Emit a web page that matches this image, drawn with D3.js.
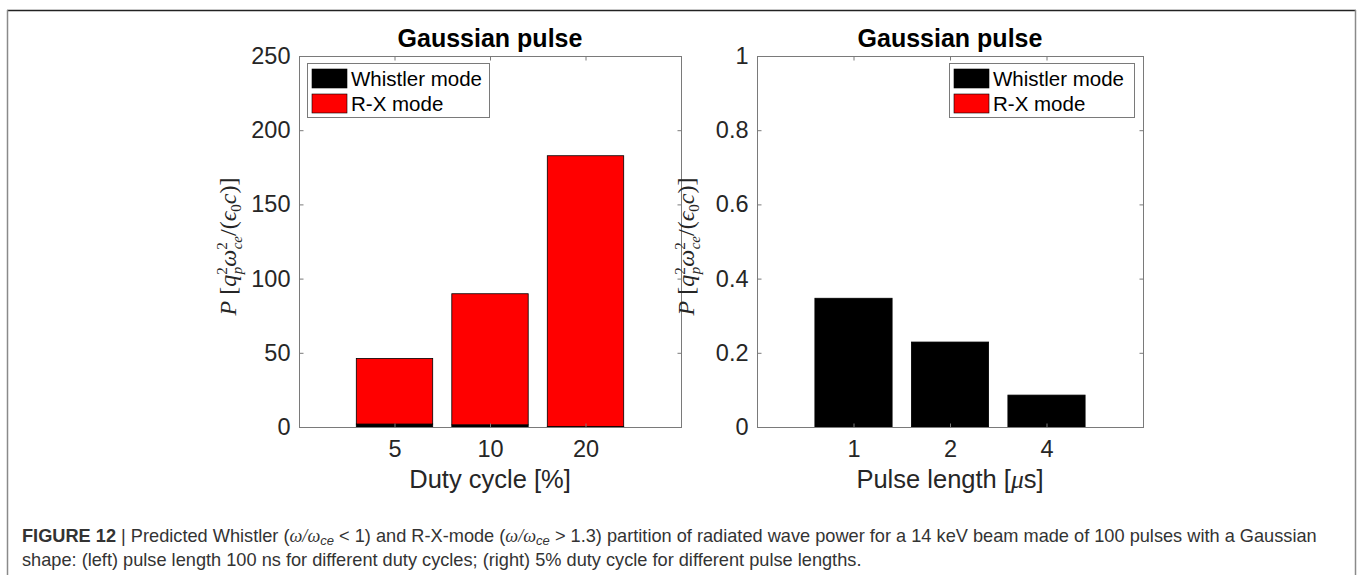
<!DOCTYPE html>
<html>
<head>
<meta charset="utf-8">
<script src="https://cdn.jsdelivr.net/npm/d3@7"></script>
<style>
  body { margin: 0; background: #fff; }
  svg text { font-family: "Liberation Sans", Arial, sans-serif; }
</style>
</head>
<body>
<div class="fig"></div>
<script>
// data
var dutyCycles = ["5", "10", "20"];
var whistlerDuty = [2.0, 1.5, 0.3];
var rxDuty = [44.2, 88.3, 182.5];

var pulseLengths = ["1", "2", "4"];
var whistlerPulse = [0.347, 0.229, 0.086];
var rxPulse = [0, 0, 0];

var yTicksLeft = [0, 50, 100, 150, 200, 250];
var yTicksRight = [0, 0.2, 0.4, 0.6, 0.8, 1];

var W = 1360, H = 575;
var svg = d3.select("div.fig").append("svg")
  .attr("width", W)
  .attr("height", H);

// outer frame of the figure panel
svg.append("line").attr("x1", 7).attr("x2", 1356).attr("y1", 10.5).attr("y2", 10.5)
  .attr("stroke", "#222").attr("stroke-width", 1.5);
svg.append("line").attr("x1", 7.5).attr("x2", 7.5).attr("y1", 10).attr("y2", H)
  .attr("stroke", "#8a8a8a").attr("stroke-width", 1.5);
svg.append("line").attr("x1", 1355.5).attr("x2", 1355.5).attr("y1", 10).attr("y2", H)
  .attr("stroke", "#8a8a8a").attr("stroke-width", 1.5);

var axisCol = "#7a7a7a", textCol = "#262626";

function panel(opt) {
  var g = svg.append("g");
  var x = d3.scalePoint().domain(opt.cats).range([opt.x0, opt.x1]).padding(1);
  var y = d3.scaleLinear().domain(opt.ydom).range([opt.y1, opt.y0]);
  var bw = x.step() * 0.8;

  var rows = opt.cats.map(function(c, i) {
    return { cat: c, whistler: opt.whistler[i], rx: opt.rx[i] };
  });
  var stacked = d3.stack().keys(["whistler", "rx"])(rows);
  var colors = { whistler: "#000000", rx: "#ff0000" };

  stacked.forEach(function(layer) {
    g.selectAll(null)
      .data(layer.filter(function(d) { return d[1] > d[0]; }))
      .enter()
      .append("rect")
      .attr("x", function(d) { return x(d.data.cat) - bw / 2; })
      .attr("width", bw)
      .attr("y", function(d) { return y(d[1]); })
      .attr("height", function(d) { return y(d[0]) - y(d[1]); })
      .attr("fill", colors[layer.key])
      .attr("stroke", "#000")
      .attr("stroke-width", 0.8);
  });

  // box
  g.append("rect")
    .attr("x", opt.x0 + 0.5).attr("y", opt.y0 + 0.5)
    .attr("width", opt.x1 - opt.x0).attr("height", opt.y1 - opt.y0)
    .attr("fill", "none").attr("stroke", axisCol).attr("stroke-width", 1);

  // axes (ticks inward, mirrored like matlab)
  var yAxis = d3.axisLeft(y).tickValues(opt.yticks).tickSizeInner(-4).tickSizeOuter(0)
    .tickPadding(9).tickFormat(opt.fmt);
  var ya = g.append("g").attr("transform", "translate(" + (opt.x0 + 0.5) + ",0)").call(yAxis);
  var yr = g.append("g").attr("transform", "translate(" + (opt.x1 + 0.5) + ",0)")
    .call(d3.axisRight(y).tickValues(opt.yticks).tickSizeInner(-4).tickSizeOuter(0).tickFormat(""));
  var xAxis = d3.axisBottom(x).tickSizeInner(-4).tickSizeOuter(0).tickPadding(13);
  var xa = g.append("g").attr("transform", "translate(0," + (opt.y1 + 0.5) + ")").call(xAxis);
  var xt = g.append("g").attr("transform", "translate(0," + (opt.y0 + 0.5) + ")")
    .call(d3.axisTop(x).tickSizeInner(-4).tickSizeOuter(0).tickFormat(""));

  [ya, yr, xa, xt].forEach(function(a) {
    a.select(".domain").remove();
    a.selectAll(".tick line").attr("stroke", axisCol);
    a.selectAll("text").attr("fill", textCol).style("font-size", "23.5px")
      .style("font-family", "Liberation Sans, Arial, sans-serif");
  });

  // title
  g.append("text")
    .attr("x", (opt.x0 + opt.x1) / 2).attr("y", 47)
    .attr("text-anchor", "middle")
    .style("font-size", "25px").style("font-weight", "bold")
    .attr("fill", "#000")
    .text("Gaussian pulse");

  // x label
  var xl = g.append("text")
    .attr("x", (opt.x0 + opt.x1) / 2).attr("y", 488)
    .attr("text-anchor", "middle")
    .style("font-size", "25.5px")
    .attr("fill", textCol);
  opt.xlabel(xl);

  // y label (math, serif)
  var yl = g.append("text")
    .attr("transform", "translate(" + (opt.x0 - 63) + "," + ((opt.y0 + opt.y1) / 2 + 5) + ") rotate(-90)")
    .attr("text-anchor", "middle")
    .style("font-family", "Liberation Serif, Times New Roman, serif")
    .style("font-size", "24px")
    .attr("fill", textCol);
  yl.append("tspan").style("font-style", "italic").style("font-family", "Liberation Serif, serif").text("P");
  yl.append("tspan").text(" [");
  yl.append("tspan").style("font-style", "italic").style("font-family", "Liberation Serif, serif").text("q");
  yl.append("tspan").attr("dy", -9).style("font-size", "15px").text("2");
  yl.append("tspan").attr("dx", -7).attr("dy", 15).style("font-size", "15px").style("font-style", "italic").text("p");
  yl.append("tspan").attr("dy", -6).style("font-style", "italic").text("\u03C9");
  yl.append("tspan").attr("dy", -9).style("font-size", "15px").text("2");
  yl.append("tspan").attr("dx", -7).attr("dy", 15).style("font-size", "15px").style("font-style", "italic").text("ce");
  yl.append("tspan").attr("dy", -6).text("/(");
  yl.append("tspan").style("font-style", "italic").text("\u03F5");
  yl.append("tspan").attr("dy", 5).style("font-size", "15px").text("0");
  yl.append("tspan").attr("dy", -5).style("font-style", "italic").text("c");
  yl.append("tspan").text(")]");

  // legend
  var lg = g.append("g");
  lg.append("rect")
    .attr("x", opt.lx + 0.5).attr("y", 63.5).attr("width", opt.lw).attr("height", 54)
    .attr("fill", "#fff").attr("stroke", axisCol).attr("stroke-width", 1);
  var items = [["Whistler mode", "#000"], ["R-X mode", "#ff0000"]];
  lg.selectAll("g.item").data(items).enter().append("g").attr("class", "item")
    .each(function(d, i) {
      var it = d3.select(this);
      it.append("rect")
        .attr("x", opt.lx + 5).attr("y", 69 + i * 25).attr("width", 35).attr("height", 19)
        .attr("fill", d[1]).attr("stroke", "#000").attr("stroke-width", 0.6);
      it.append("text")
        .attr("x", opt.lx + 44).attr("y", 86 + i * 25)
        .style("font-size", "20.5px").attr("fill", "#000")
        .text(d[0]);
    });
}

panel({
  cats: dutyCycles, whistler: whistlerDuty, rx: rxDuty,
  x0: 299, x1: 681, y0: 56, y1: 427,
  ydom: [0, 250], yticks: yTicksLeft, fmt: d3.format("d"),
  lx: 307, lw: 182,
  xlabel: function(t) { t.text("Duty cycle [%]"); }
});

panel({
  cats: pulseLengths, whistler: whistlerPulse, rx: rxPulse,
  x0: 757, x1: 1143, y0: 56, y1: 427,
  ydom: [0, 1], yticks: yTicksRight, fmt: function(d) { return d === 0 || d === 1 ? d3.format("d")(d) : d3.format(".1f")(d); },
  lx: 949, lw: 185,
  xlabel: function(t) {
    t.append("tspan").text("Pulse length [");
    t.append("tspan").style("font-family", "Liberation Serif, serif").style("font-style", "italic").text("\u03BC");
    t.append("tspan").text("s]");
  }
});

// caption
var capSize = "18.2px";
var cap = svg.append("text")
  .attr("x", 22).attr("y", 542)
  .style("font-size", capSize)
  .attr("fill", "#333");
cap.append("tspan").style("font-weight", "bold").text("FIGURE 12");
cap.append("tspan").text(" | Predicted Whistler (");
cap.append("tspan").style("font-family", "Liberation Serif, serif").style("font-style", "italic").text("\u03C9/\u03C9");
cap.append("tspan").attr("dy", 3).style("font-size", "13px").style("font-style", "italic").text("ce");
cap.append("tspan").attr("dy", -3).text(" < 1) and R-X-mode (");
cap.append("tspan").style("font-family", "Liberation Serif, serif").style("font-style", "italic").text("\u03C9/\u03C9");
cap.append("tspan").attr("dy", 3).style("font-size", "13px").style("font-style", "italic").text("ce");
cap.append("tspan").attr("dy", -3).text(" > 1.3) partition of radiated wave power for a 14 keV beam made of 100 pulses with a Gaussian");

svg.append("text")
  .attr("x", 22).attr("y", 566)
  .style("font-size", capSize)
  .attr("fill", "#333")
  .text("shape: (left) pulse length 100 ns for different duty cycles; (right) 5% duty cycle for different pulse lengths.");
</script>
</body>
</html>
